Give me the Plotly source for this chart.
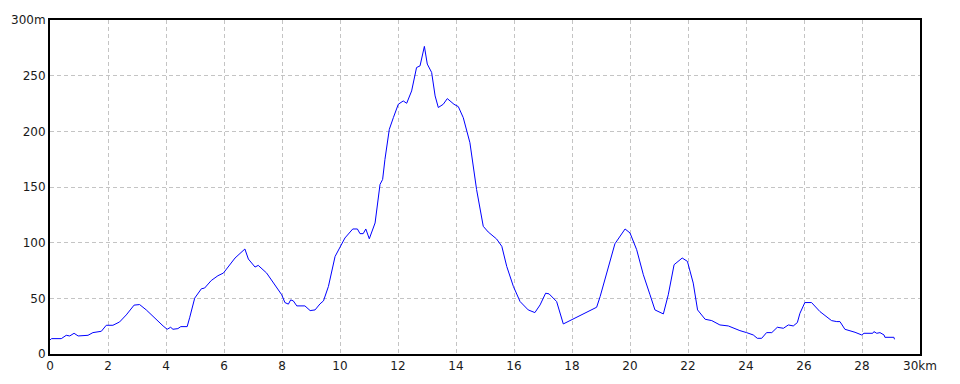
import plotly.graph_objects as go

dist_km = [0.0, 0.05, 0.39, 0.56, 0.68, 0.83, 0.97, 1.31, 1.48, 1.77, 1.94, 2.17, 2.40, 2.63, 2.90, 3.09,
           3.32, 3.61, 3.90, 4.04, 4.16, 4.24, 4.41, 4.51, 4.73, 4.82, 4.99, 5.22, 5.33, 5.56, 5.79,
           5.98, 6.14, 6.38, 6.72, 6.84, 7.07, 7.18, 7.47, 7.76, 7.99, 8.10, 8.22, 8.30, 8.39, 8.51,
           8.79, 8.97, 9.14, 9.31, 9.43, 9.60, 9.83, 10.17, 10.44, 10.60, 10.69, 10.80, 10.89, 11.01,
           11.21, 11.38, 11.47, 11.55, 11.70, 11.84, 12.01, 12.18, 12.30, 12.47, 12.64, 12.76, 12.91,
           13.01, 13.16, 13.28, 13.39, 13.56, 13.70, 13.93, 14.08, 14.25, 14.48, 14.71, 14.94, 15.11,
           15.40, 15.58, 15.75, 15.98, 16.21, 16.49, 16.72, 16.90, 17.09, 17.21, 17.47, 17.70, 17.91,
           18.10, 18.39, 18.85, 18.97, 19.17, 19.48, 19.83, 20.0, 20.23, 20.46, 20.69, 20.86, 21.15,
           21.32, 21.52, 21.67, 21.80, 21.98, 22.18, 22.33, 22.59, 22.82, 23.10, 23.39, 23.62, 23.79,
           24.02, 24.25, 24.39, 24.54, 24.71, 24.89, 25.08, 25.29, 25.46, 25.63, 25.77, 25.86, 26.03,
           26.26, 26.55, 26.78, 26.95, 27.13, 27.24, 27.41, 27.59, 27.76, 27.99, 28.07, 28.37, 28.41,
           28.51, 28.62, 28.76, 28.79, 29.10, 29.12]
elev_m = [12.5, 13.8, 13.8, 16.8, 16.2, 18.6, 16.2, 16.8, 19.2, 20.4, 25.8, 25.8, 28.8, 35.1, 43.9, 44.4,
          39.6, 32.2, 25.2, 22.2, 24.0, 22.2, 22.8, 24.6, 24.6, 33.0, 50.2, 58.6, 59.2, 66.0, 70.3,
          72.7, 78.1, 86.2, 94.3, 85.3, 78.1, 79.6, 72.7, 62.2, 53.2, 46.2, 44.8, 48.6, 47.7, 43.2,
          43.2, 39.0, 39.6, 45.0, 47.7, 60.6, 87.6, 104.2, 112.3, 112.3, 108.1, 108.1, 112.3, 103.5,
          117.7, 152.3, 156.8, 174.8, 201.8, 212.3, 224.3, 227.3, 225.2, 236.3, 257.3, 258.8, 276.3,
          260.4, 252.9, 231.8, 221.4, 224.3, 229.4, 224.3, 222.2, 212.3, 189.8, 147.7, 114.7, 109.6,
          103.3, 96.7, 78.6, 60.6, 47.1, 39.6, 37.2, 44.1, 54.6, 54.0, 47.1, 27.0, 29.7,
          32.1, 36.0, 42.0, 51.6, 69.6, 99.0, 112.3, 108.7, 93.7, 71.2, 53.2, 39.6, 36.0,
          53.2, 80.2, 83.2, 86.2, 83.2, 63.7, 39.6, 31.2, 30.0, 26.1, 25.2, 22.5, 21.0,
          19.2, 17.1, 14.1, 14.1, 19.2, 19.2, 24.0, 23.1, 26.1, 25.2, 28.2, 36.6, 46.2,
          46.2, 38.1, 33.0, 30.0, 29.1, 29.1, 22.2, 21.0, 19.5, 17.1, 18.6, 18.6, 20.1,
          18.6, 19.2, 17.1, 15.0, 15.0, 13.2]

x_ticks = [0, 2, 4, 6, 8, 10, 12, 14, 16, 18, 20, 22, 24, 26, 28, 30]
x_labels = ["0", "2", "4", "6", "8", "10", "12", "14", "16", "18", "20", "22", "24", "26", "28", "30km"]
y_ticks = [0, 50, 100, 150, 200, 250, 300]
y_labels = ["0", "50", "100", "150", "200", "250", "300m"]

fig = go.Figure()
fig.add_trace(go.Scatter(x=dist_km, y=elev_m, mode="lines",
                         line=dict(color="#0000ff", width=1), hoverinfo="skip"))

axis_common = dict(showline=True, linecolor="#000000", linewidth=2, mirror=True,
                   showgrid=True, gridcolor="#c4c4c4", griddash="4px,3px", gridwidth=1,
                   zeroline=False, ticks="", tickfont=dict(family="DejaVu Sans", size=12, color="#1a1a1a"))

fig.update_xaxes(range=[0, 30], tickmode="array", tickvals=x_ticks, ticktext=x_labels, **axis_common)
fig.update_yaxes(range=[0, 300], tickmode="array", tickvals=y_ticks, ticktext=y_labels, **axis_common)

fig.update_layout(width=960, height=384, margin=dict(l=50, r=40, t=20, b=30),
                  paper_bgcolor="#ffffff", plot_bgcolor="#ffffff", showlegend=False)

fig.write_html("out.html")
